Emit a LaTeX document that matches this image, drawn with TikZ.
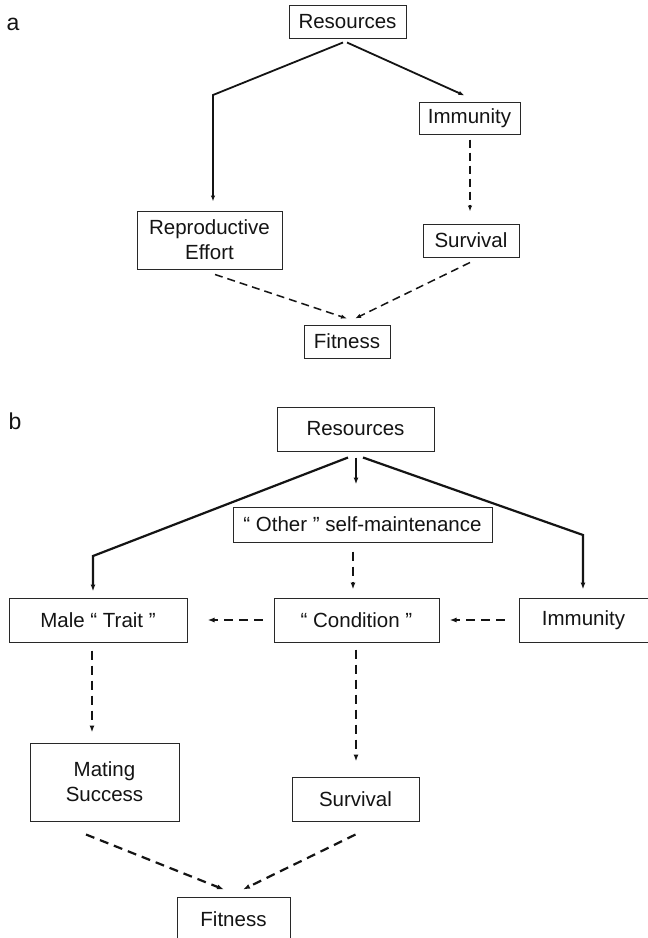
\documentclass[tikz,border=0pt]{standalone}
\usepackage{fontspec}
\setmainfont{Liberation Sans}
\usepackage{tikz}
\usetikzlibrary{positioning,arrows.meta,calc}
\definecolor{boxline}{RGB}{40,40,40}
\definecolor{inkdark}{RGB}{20,20,20}
\tikzset{
  fignode/.style={draw=boxline, line width=1pt, text=inkdark, inner sep=0pt,
                  font=\fontsize{20.5}{25}\selectfont, align=center},
  panellabel/.style={text=inkdark, inner sep=0pt, font=\fontsize{23}{27}\selectfont},
  solidA/.style={-{Latex[length=6pt,width=4.5pt]}, line width=1.8pt, inkdark},
  dashA/.style={-{Latex[length=6pt,width=4.5pt]}, line width=1.5pt, inkdark,
                dash pattern=on 8pt off 5pt},
  solidB/.style={-{Latex[length=7pt,width=5pt]}, line width=2.2pt, inkdark},
  dashB/.style={-{Latex[length=7pt,width=5pt]}, line width=2.2pt, inkdark,
                dash pattern=on 9pt off 6pt}
}

\begin{document}
\begin{tikzpicture}[x=1pt, y=-1pt]
  \useasboundingbox[fill=white] (0,0) rectangle (648,938);

  % Panel a
  \node[panellabel] (labA) at (13,24) {a};
  \node[fignode, minimum width=117pt, minimum height=33pt] (resA) at (347.5,21.5) {Resources};
  \node[fignode, minimum width=101pt, minimum height=32pt] (immA) at (469.5,118) {Immunity};
  \node[fignode, minimum width=145pt, minimum height=58pt] (reA) at (209.5,240) {Reproductive\\Effort};
  \node[fignode, minimum width=96pt, minimum height=33pt] (survA) at (471,240.5) {Survival};
  \node[fignode, minimum width=86pt, minimum height=33pt] (fitA) at (347,341.5) {Fitness};

  \coordinate (kneeA) at (213,95);
  \coordinate (immFoot) at ([xshift=0.5pt]immA.south);
  \draw[solidA, shorten >=9pt] ([xshift=-4.5pt,yshift=-4pt]resA.south) -- (kneeA) -- (kneeA |- reA.north);
  \draw[solidA] ([xshift=-0.5pt,yshift=-4pt]resA.south) -- ([xshift=-5pt,yshift=6pt]immA.north);
  \draw[dashA, shorten <=5pt, shorten >=12pt] (immFoot) -- (immFoot |- survA.north);
  \draw[dashA] ([xshift=5.5pt,yshift=-5pt]reA.south) -- ([yshift=6pt]fitA.north);
  \draw[dashA] ([xshift=-1pt,yshift=-5pt]survA.south) -- ([xshift=8pt,yshift=6pt]fitA.north);

  % Panel b
  \node[panellabel] (labB) at (15,421) {b};
  \node[fignode, minimum width=157pt, minimum height=44pt] (resB) at (355.5,429) {Resources};
  \node[fignode, minimum width=259pt, minimum height=35pt] (otherB) at (362.5,524.5) {“ Other ” self-maintenance};
  \node[fignode, minimum width=178pt, minimum height=44pt] (traitB) at (98,620) {Male “ Trait ”};
  \node[fignode, minimum width=165pt, minimum height=44pt] (condB) at (356.5,620) {“ Condition ”};
  \node[fignode, minimum width=129pt, minimum height=44pt] (immB) at (583.5,620) {Immunity};
  \node[fignode, minimum width=149pt, minimum height=78pt] (mateB) at (104.5,782) {Mating\\Success};
  \node[fignode, minimum width=127pt, minimum height=44pt] (survB) at (355.5,799) {Survival};
  \node[fignode, minimum width=113pt, minimum height=44pt] (fitB) at (233.5,919) {Fitness};

  % resources split three ways
  \coordinate (kneeL) at (93,556);
  \coordinate (kneeR) at (583,535);
  \coordinate (resFoot) at ([xshift=0.5pt]resB.south);
  \draw[solidB, shorten >=6pt] ([xshift=-7.5pt,yshift=-6pt]resB.south) -- (kneeL) -- (kneeL |- traitB.north);
  \draw[solidB, shorten <=6pt, shorten >=22pt] (resFoot) -- (resFoot |- otherB.north);
  \draw[solidB, shorten >=8pt] ([xshift=7.5pt,yshift=-6pt]resB.south) -- (kneeR) -- (kneeR |- immB.north);

  % dashed links
  \coordinate (otherFoot) at ([xshift=-9.5pt]otherB.south);
  \coordinate (traitFoot) at ([xshift=-6pt]traitB.south);
  \coordinate (condFoot) at ([xshift=-0.5pt]condB.south);
  \draw[dashB, shorten <=9pt, shorten >=8pt] (otherFoot) -- (otherFoot |- condB.north);
  \draw[dashB, shorten <=11pt, shorten >=20pt] (condB.west) -- (traitB.east);
  \draw[dashB, shorten <=14pt, shorten >=10pt] (immB.west) -- (condB.east);
  \draw[dashB, shorten <=8pt, shorten >=10pt] (traitFoot) -- (traitFoot |- mateB.north);
  \draw[dashB, shorten <=7pt, shorten >=15pt] (condFoot) -- (condFoot |- survB.north);
  \draw[dashB] ([xshift=-18.5pt,yshift=-13pt]mateB.south) -- ([xshift=-9.5pt,yshift=7pt]fitB.north);
  \draw[dashB] ([yshift=-13pt]survB.south) -- ([xshift=9.5pt,yshift=7pt]fitB.north);
\end{tikzpicture}
\end{document}
